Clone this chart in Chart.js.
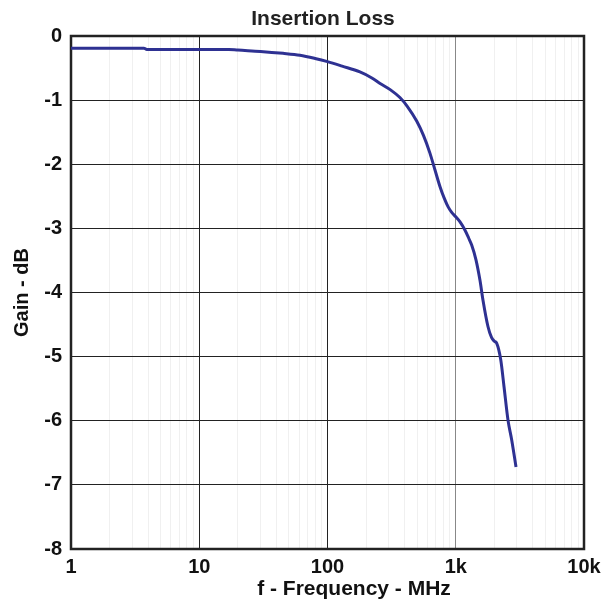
<!DOCTYPE html>
<html>
<head>
<meta charset="utf-8">
<script src="https://cdn.jsdelivr.net/npm/chart.js@4.4.1/dist/chart.umd.min.js"></script>
<style>
  html, body { margin: 0; padding: 0; background: #fff; }
  #wrap { width: 603px; height: 603px; }
</style>
</head>
<body>
<div id="wrap"><canvas id="chart" width="603" height="603"></canvas></div>
<script>
// Insertion loss curve
const freqMHz = [1, 2, 3.7, 3.9, 10, 17, 20, 30, 45, 61, 80, 100, 130, 179, 220, 257, 310, 367, 420, 497,
  560, 630, 689, 754, 810, 870, 930, 1000, 1080, 1181, 1260, 1331, 1438, 1545, 1631, 1783, 1900, 2000,
  2084, 2243, 2379, 2555, 2731, 2950];
const gainDb = [-0.19, -0.19, -0.19, -0.21, -0.21, -0.21, -0.22, -0.24, -0.27, -0.30, -0.35, -0.40, -0.47,
  -0.56, -0.65, -0.74, -0.84, -0.96, -1.10, -1.33, -1.55, -1.83, -2.09, -2.35, -2.52, -2.66, -2.75, -2.82,
  -2.90, -3.03, -3.15, -3.26, -3.49, -3.81, -4.12, -4.53, -4.70, -4.76, -4.79, -5.05, -5.47, -5.99, -6.30, -6.72];

// x ticks: every 1..9 step per decade, labels only on decades
const xTickValues = [];
for (let d = 1; d <= 1000; d *= 10) {
  for (let m = 1; m < 10; m++) xTickValues.push(m * d);
}
xTickValues.push(10000);
const xTickLabels = { 1: '1', 10: '10', 100: '100', 1000: '1k', 10000: '10k' };

const yMin = -8, yMax = 0;
const chartTitle = 'Insertion Loss';
const xTitle = 'f - Frequency - MHz';

const FONT = "'Liberation Sans', Arial, sans-serif";

// thick frame around the plot area
const frame = {
  id: 'frame',
  beforeDatasetsDraw(chart) {
    const a = chart.chartArea, ctx = chart.ctx;
    ctx.save();
    ctx.strokeStyle = '#222';
    ctx.lineWidth = 2.5;
    ctx.strokeRect(a.left, a.top, a.right - a.left, a.bottom - a.top);
    ctx.restore();
  }
};

// chart title and x axis title are placed off-centre in the original
const titles = {
  id: 'titles',
  afterDraw(chart) {
    const ctx = chart.ctx;
    ctx.save();
    ctx.font = 'bold 21px ' + FONT;
    ctx.textAlign = 'center';
    ctx.textBaseline = 'middle';
    ctx.fillStyle = '#222';
    ctx.fillText(chartTitle, 323, 19);
    ctx.fillStyle = '#111';
    ctx.fillText(xTitle, 354, 589);
    ctx.restore();
  }
};

new Chart(document.getElementById('chart'), {
  type: 'scatter',
  data: {
    datasets: [{
      data: freqMHz.map((f, i) => ({ x: f, y: gainDb[i] })),
      showLine: true,
      borderColor: '#2e3192',
      borderWidth: 3,
      pointRadius: 0,
      cubicInterpolationMode: 'monotone'
    }]
  },
  options: {
    responsive: false,
    animation: false,
    layout: { padding: { left: 0, right: 19, top: 36, bottom: 0 } },
    plugins: {
      legend: { display: false },
      tooltip: { enabled: false },
      title: { display: false }
    },
    scales: {
      x: {
        type: 'logarithmic',
        min: 1,
        max: 10000,
        afterBuildTicks(scale) {
          scale.ticks = xTickValues.map(v => ({ value: v }));
        },
        afterFit(scale) {
          scale.height = 54;
          scale.paddingLeft = 0;
          scale.paddingRight = 0;
        },
        ticks: {
          autoSkip: false,
          maxRotation: 0,
          padding: 6,
          color: '#111',
          font: { family: FONT, size: 20, weight: 'bold' },
          callback: v => xTickLabels[v] || ''
        },
        grid: {
          drawTicks: false,
          color: ctx => {
            const v = ctx.tick && ctx.tick.value;
            if (v === 1000) return '#888';
            return xTickLabels[v] ? '#222' : '#f0f0f0';
          },
          lineWidth: 1
        },
        border: { display: false },
        title: { display: false }
      },
      y: {
        min: yMin,
        max: yMax,
        afterFit(scale) {
          scale.width = 71;
          scale.paddingTop = 0;
          scale.paddingBottom = 0;
        },
        ticks: {
          stepSize: 1,
          padding: 9,
          color: '#111',
          font: { family: FONT, size: 20, weight: 'bold' }
        },
        grid: { drawTicks: false, color: '#222', lineWidth: 1 },
        border: { display: false },
        title: {
          display: true,
          text: 'Gain - dB',
          color: '#111',
          font: { family: FONT, size: 20, weight: 'bold' },
          padding: { top: 10, bottom: 0 }
        }
      }
    }
  },
  plugins: [frame, titles]
});
</script>
</body>
</html>
